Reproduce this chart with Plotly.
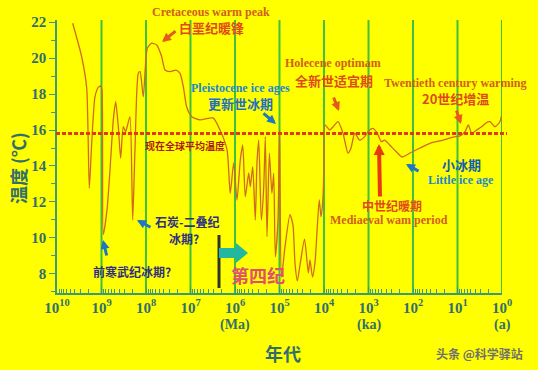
import plotly.graph_objects as go

# ---------------- data ----------------
age_years = [4.44e9, 2.79e9, 2.15e9, 1.88e9, 1.66e9, 1.40e9, 1.18e9, 1.04e9, 9.75e8, 9.12e8,
             7.52e8, 6.44e8, 5.43e8, 4.80e8, 4.19e8, 3.71e8, 3.24e8, 2.86e8, 2.63e8, 2.29e8,
             1.99e8, 1.77e8, 1.49e8, 1.36e8, 1.15e8, 9.35e7, 7.45e7, 5.75e7, 4.44e7, 3.74e7,
             2.89e7, 2.12e7, 1.72e7, 1.45e7, 1.22e7, 9.40e6, 6.12e6, 3.12e6, 2.17e6, 1.51e6,
             1.28e6, 1.07e6, 9.02e5, 7.60e5, 6.71e5, 5.87e5, 4.92e5, 4.53e5, 4.00e5, 3.50e5,
             3.21e5, 2.93e5, 2.56e5, 2.26e5, 2.08e5, 1.91e5, 1.69e5, 1.48e5, 1.35e5, 1.24e5,
             1.08e5, 1.00e5, 9.02e4, 7.52e4, 5.81e4, 4.98e4, 4.49e4, 3.98e4, 3.46e4, 2.74e4,
             2.25e4, 2.07e4, 1.81e4, 1.59e4, 1.28e4, 1.17e4, 1.08e4, 1.00e4, 9.51e3, 7.45e3,
             6.28e3, 4.84e3, 3.74e3, 2.89e3, 2.47e3, 2.04e3, 1.58e3, 1.22e3, 1.03e3, 793,
             634, 515, 433, 334, 237, 177, 117, 69.7, 41.5, 21.2,
             12.6, 8.79, 6.78, 5.71, 4.80, 3.71, 2.86, 2.29, 1.86, 1.44,
             1.11, 1.03]
temp_c = [21.93, 20.07, 18.32, 12.76, 15.26, 17.85, 18.37, 18.44, 18.2, 10.2,
          11.56, 13.78, 16.56, 17.57, 16.18, 14.43, 16.18, 15.91, 16.22, 16.74,
          11.0, 14.89, 19.15, 19.24, 17.85, 20.54, 20.82, 20.72, 20.07, 19.33,
          19.24, 19.33, 19.15, 18.41, 17.29, 16.74, 16.56, 16.67, 16.0, 14.89,
          12.48, 14.17, 12.11, 14.33, 15.17, 12.29, 13.61, 12.85, 13.96, 11.0,
          14.17, 15.44, 11.0, 12.85, 15.63, 10.07, 14.71, 12.48, 13.59, 8.96,
          11.0, 16.0, 7.83, 9.52, 11.3, 10.72, 8.61, 7.61, 8.5, 9.94,
          8.06, 8.78, 7.83, 8.67, 12.11, 11.18, 11.83, 13.8, 16.28, 16.0,
          16.17, 16.46, 15.82, 14.71, 15.0, 15.82, 15.44, 15.63, 15.91, 16.09,
          15.82, 15.35, 15.44, 15.17, 14.79, 14.5, 14.72, 15.0, 15.26, 15.44,
          15.61, 15.67, 15.91, 16.28, 15.82, 16.0, 16.18, 16.39, 16.46, 16.18,
          16.46, 16.78]

present_mean_temp = 15.8
decade_vals = [1e10, 1e9, 1e8, 1e7, 1e6, 1e5, 1e4, 1e3, 1e2, 1e1, 1e0]
decade_text = ["10<sup>10</sup>", "10<sup>9</sup>", "10<sup>8</sup>", "10<sup>7</sup>",
               "10<sup>6</sup>", "10<sup>5</sup>", "10<sup>4</sup>", "10<sup>3</sup>",
               "10<sup>2</sup>", "10<sup>1</sup>", "10<sup>0</sup>"]
y_ticks = [8, 10, 12, 14, 16, 18, 20, 22]

# ---------------- layout geometry ----------------
W, H = 538, 370
L, R, T, B = 57, 36, 20, 77
PW, PH = W - L - R, H - T - B


def px(x):
    return (x - L) / PW


def py(y):
    return (H - B - y) / PH


TEAL = "#336E6E"
AXIS = "#3A9A7A"
GREEN = "#40C040"
ORANGE = "#D2601A"
RED = "#E04A1A"
BLUE = "#1E78C0"
NAVY = "#303080"
SERIF = "Liberation Serif"
CJK = "Noto Sans CJK SC"

fig = go.Figure()

# green decade lines (drawn below the curve)
for v in decade_vals[1:]:
    fig.add_shape(type="line", xref="x", yref="paper", x0=v, x1=v, y0=0, y1=1,
                  line=dict(color=GREEN, width=2), layer="below")

fig.add_trace(go.Scatter(x=age_years, y=temp_c, mode="lines",
                         line=dict(color="#D2691E", width=1.3, shape="spline", smoothing=0.6),
                         showlegend=False, hoverinfo="skip"))

minor_vals = [k * 10 ** n for n in range(0, 10) for k in range(2, 10)]

fig.update_layout(
    width=W, height=H,
    margin=dict(l=L, r=R, t=T, b=B),
    paper_bgcolor="#FFFF00", plot_bgcolor="#FFFF00",
    showlegend=False,
    xaxis=dict(type="log", range=[10, 0], showgrid=False, zeroline=False,
               showline=True, linecolor=AXIS, linewidth=1.5,
               tickmode="array", tickvals=decade_vals, ticktext=decade_text,
               ticks="inside", ticklen=6, tickcolor=AXIS, tickwidth=1.2,
               tickfont=dict(family=SERIF, size=15, color=TEAL, weight="bold"),
               minor=dict(tickvals=minor_vals, ticks="inside", ticklen=4,
                          tickcolor=AXIS, tickwidth=1),
               ),
    yaxis=dict(range=[6.944, 22.111], showgrid=False, zeroline=False,
               showline=True, linecolor=AXIS, linewidth=1.5,
               tickmode="array", tickvals=y_ticks,
               ticks="outside", ticklen=6, tickcolor=AXIS, tickwidth=1.2,
               tickfont=dict(family=SERIF, size=15, color=TEAL, weight="bold"),
               minor=dict(dtick=1, ticks="outside", ticklen=4, tickcolor=AXIS, tickwidth=1),
               ),
)

# present mean temperature dotted line
fig.add_shape(type="line", xref="paper", yref="y", x0=px(56), x1=px(507),
              y0=present_mean_temp, y1=present_mean_temp,
              line=dict(color="#E03A10", width=3, dash="4px,2px"))

# black bar and teal block arrow (Quaternary)
fig.add_shape(type="line", xref="paper", yref="paper", x0=px(219), x1=px(219),
              y0=py(235), y1=py(288), line=dict(color="#333333", width=3))
pts = [(219, 248), (236, 248), (236, 243), (248, 253), (236, 263), (236, 258), (219, 258)]
path = "M " + " L ".join(f"{px(a):.4f},{py(b):.4f}" for a, b in pts) + " Z"
fig.add_shape(type="path", xref="paper", yref="paper", path=path,
              fillcolor="#22B8A0", line=dict(width=0))


def label(text, x, y, color, size, family, angle=0):
    fig.add_annotation(text=text, x=px(x), y=py(y), xref="paper", yref="paper",
                       showarrow=False, textangle=angle, xanchor="center", yanchor="middle",
                       font=dict(family=family, size=size, color=color, weight="bold"))


def arrow(hx, hy, tx, ty, color, width=3, size=0.6):
    fig.add_annotation(text="", x=px(hx), y=py(hy), xref="paper", yref="paper",
                       ax=tx - hx, ay=ty - hy, showarrow=True, arrowhead=2,
                       arrowsize=size, arrowwidth=width, arrowcolor=color, standoff=0)


label("Cretaceous warm peak", 211, 12, ORANGE, 12, SERIF)
label("白垩纪暖锋", 211, 27, RED, 13, CJK)
arrow(162, 42, 177, 30, "#E85A1A")

label("Pleistocene ice ages", 240, 88, "#1E88C8", 12, SERIF)
label("更新世冰期", 240, 103, "#1E70C0", 13, CJK)
arrow(276, 124, 262, 112, BLUE)

label("Holecene optimam", 333, 63, ORANGE, 12, SERIF)
label("全新世适宜期", 334, 80, RED, 13, CJK)
arrow(339, 111, 333, 96, "#E85A1A")

label("Twentieth century warming", 455, 83, ORANGE, 12, SERIF)
label("20世纪增温", 455, 98, RED, 13, CJK)
arrow(461, 124, 456, 109, "#E85A1A")

arrow(379, 144, 380, 198, "#E83A10", 4, 0.55)
label("中世纪暖期", 392, 205, RED, 12, CJK)
label("Mediaeval wam period", 389, 220, ORANGE, 12, SERIF)

arrow(406, 164, 420, 172, BLUE)
label("小冰期", 461, 164, "#1060B0", 13, CJK)
label("Little ice age", 461, 180, "#1E88C8", 12, SERIF)

label("现在全球平均温度", 185, 145, "#B01818", 10, CJK)

label("石炭-二叠纪", 187, 221, NAVY, 12, CJK)
label("冰期?", 184, 238, NAVY, 12, CJK)
arrow(137, 220, 152, 228, BLUE)

label("前寒武纪冰期?", 132, 271, NAVY, 12, CJK)
arrow(103, 240, 107, 257, BLUE)

label("第四纪", 258, 275, "#E0506E", 18, CJK)

# axis unit labels and titles
label("(Ma)", 235, 325, TEAL, 14, SERIF)
label("(ka)", 369, 325, TEAL, 14, SERIF)
label("(a)", 502, 325, TEAL, 14, SERIF)
label("年代", 283, 353, TEAL, 18, CJK)
label("温度 (℃)", 18, 168, TEAL, 18, CJK, angle=-90)
label("头条 @科学驿站", 479, 353, "#707070", 12, CJK)

fig.write_html("out.html")
